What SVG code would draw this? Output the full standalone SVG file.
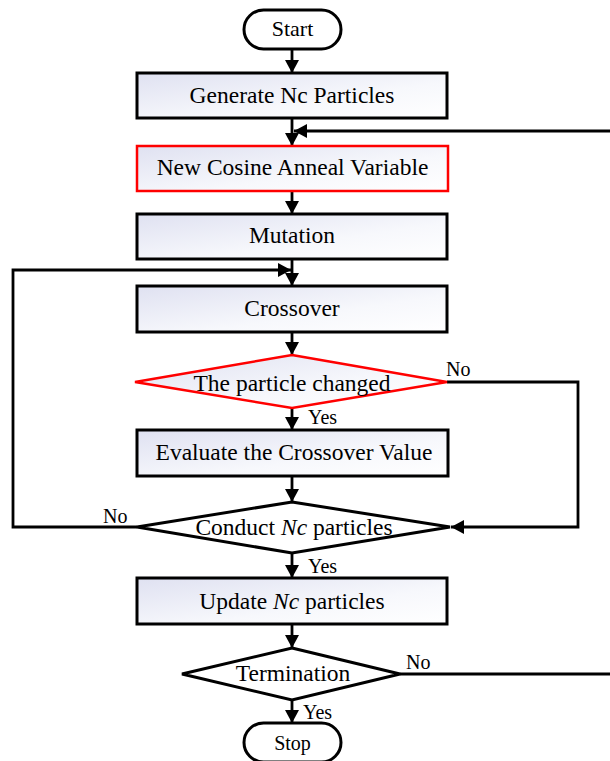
<svg xmlns="http://www.w3.org/2000/svg" width="610" height="761" viewBox="0 0 610 761">
<defs>
<linearGradient id="g" x1="0" y1="0" x2="1" y2="1">
<stop offset="0" stop-color="#dfe1f1"/>
<stop offset="0.6" stop-color="#f7f8fc"/>
<stop offset="1" stop-color="#ffffff"/>
</linearGradient>
<marker id="arr" markerUnits="userSpaceOnUse" markerWidth="16" markerHeight="16" viewBox="0 0 16 16" refX="14" refY="8" orient="auto">
<path d="M1,1 L14,8 L1,15 Z" fill="#000"/>
</marker>
</defs>
<style>
.box{fill:url(#g);stroke:#000;stroke-width:3}
.red{fill:url(#g);stroke:#ff0000;stroke-width:2.5}
.term{fill:#fff;stroke:#000;stroke-width:3}
.dia{fill:#fff;stroke:#000;stroke-width:3}
.t{font-family:"Liberation Serif","Times New Roman",serif;font-size:23.5px;fill:#000;text-anchor:middle}
.s{font-family:"Liberation Serif","Times New Roman",serif;font-size:20px;fill:#000}
.c{fill:none;stroke:#000;stroke-width:2.8}
</style>
<rect width="610" height="761" fill="#fff"/>
<g id="connectors">
<path class="c" d="M292,49 V73" marker-end="url(#arr)"/>
<path class="c" d="M292,118 V146" marker-end="url(#arr)"/>
<path class="c" d="M400,674 H625 V131 H294" marker-end="url(#arr)"/>
<path class="c" d="M292,191 V214" marker-end="url(#arr)"/>
<path class="c" d="M292,259 V286" marker-end="url(#arr)"/>
<path class="c" d="M292,332 V355" marker-end="url(#arr)"/>
<path class="c" d="M292,408 V430" marker-end="url(#arr)"/>
<path class="c" d="M447,382 H578 V527 H451" marker-end="url(#arr)"/>
<path class="c" d="M292,476 V502" marker-end="url(#arr)"/>
<path class="c" d="M137,527 H13 V270 H291" marker-end="url(#arr)"/>
<path class="c" d="M292,553 V578" marker-end="url(#arr)"/>
<path class="c" d="M292,624 V648" marker-end="url(#arr)"/>
<path class="c" d="M292,700 V723" marker-end="url(#arr)"/>
<text class="s" x="446" y="376">No</text>
<text class="s" x="308" y="424">Yes</text>
<text class="s" x="103" y="523">No</text>
<text class="s" x="308" y="573">Yes</text>
<text class="s" x="406" y="669">No</text>
<text class="s" x="303" y="719">Yes</text>
</g>
<g id="start">
<rect class="term" x="244" y="10" width="97" height="39" rx="19.5"/>
<text class="t" x="292.5" y="36" style="font-size:22px">Start</text>
</g>
<g id="generate">
<rect class="box" x="137" y="73" width="310" height="45"/>
<text class="t" x="292" y="103">Generate Nc Particles</text>
</g>
<g id="cosine">
<rect class="red" x="137" y="146" width="311" height="45"/>
<text class="t" x="292.5" y="175">New Cosine Anneal Variable</text>
</g>
<g id="mutation">
<rect class="box" x="137" y="214" width="310" height="45"/>
<text class="t" x="292" y="243">Mutation</text>
</g>
<g id="crossover">
<rect class="box" x="137" y="286" width="310" height="46"/>
<text class="t" x="292" y="316">Crossover</text>
</g>
<g id="changed">
<polygon class="red" points="292,355 447,382 292,408 135,382"/>
<text class="t" x="292" y="391">The particle changed</text>
</g>
<g id="evaluate">
<rect class="box" x="137" y="430" width="311" height="46"/>
<text class="t" x="294" y="460">Evaluate the Crossover Value</text>
</g>
<g id="conduct">
<polygon class="dia" points="292,502 450,527 292,553 137,527"/>
<text class="t" x="294" y="535">Conduct <tspan font-style="italic">Nc</tspan> particles</text>
</g>
<g id="update">
<rect class="box" x="137" y="578" width="310" height="46"/>
<text class="t" x="292" y="609">Update <tspan font-style="italic">Nc</tspan> particles</text>
</g>
<g id="termination">
<polygon class="dia" points="292,648 400,674 292,700 182,674"/>
<text class="t" x="293" y="681">Termination</text>
</g>
<g id="stop">
<rect class="term" x="244" y="723" width="97" height="39" rx="19.5"/>
<text class="t" x="292.5" y="750" style="font-size:20px">Stop</text>
</g>
</svg>
